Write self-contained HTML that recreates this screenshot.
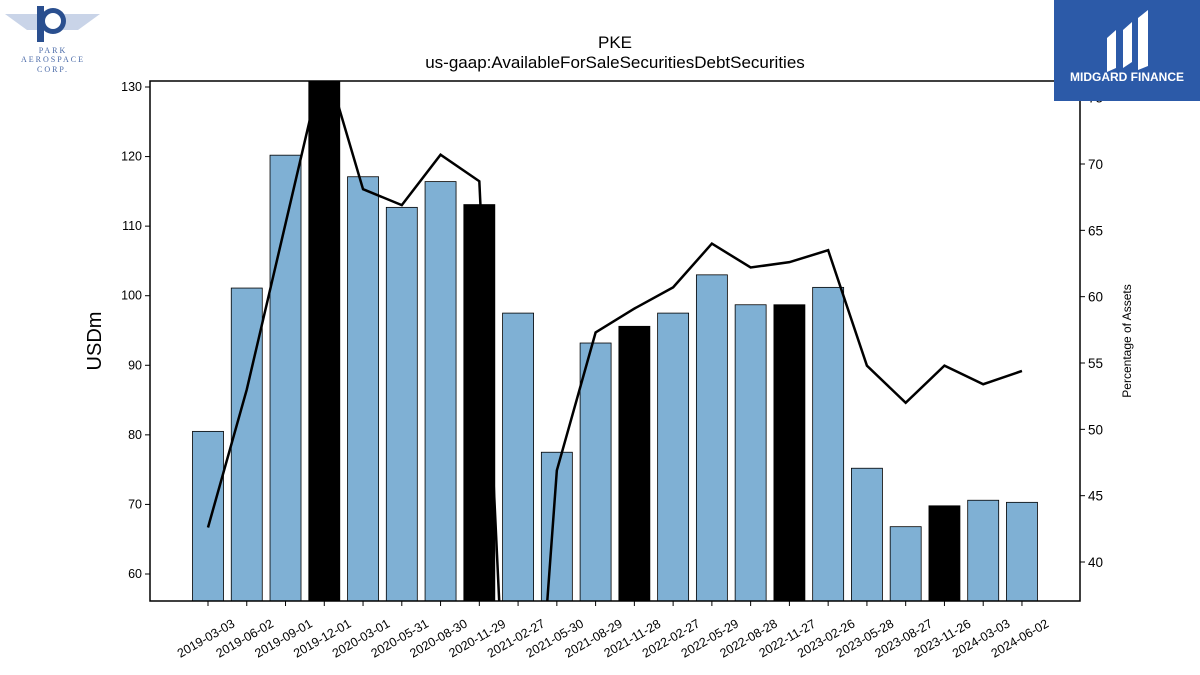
<!DOCTYPE html>
<html><head><meta charset="utf-8"><style>
html,body{margin:0;padding:0;background:#fff;}
body{width:1200px;height:675px;overflow:hidden;position:relative;font-family:"Liberation Sans",sans-serif;}
</style></head><body>
<svg id="chart" width="1200" height="675" xmlns="http://www.w3.org/2000/svg" font-family="Liberation Sans, sans-serif" style="display:block">
<defs><clipPath id="plotclip"><rect x="150" y="81" width="930" height="520"/></clipPath></defs>
<g id="logo-left">
<path d="M5 14 L100 14 L78 30 L27 30 Z" fill="#c9d4e8"/>
<rect x="37" y="6" width="7" height="36" fill="#2a4f8f"/>
<circle cx="53" cy="21" r="13" fill="#2a4f8f"/><circle cx="53" cy="21" r="8" fill="#fff"/>
<text x="53" y="53" font-size="8" fill="#4a6aa8" text-anchor="middle" font-family="Liberation Serif, serif" letter-spacing="2">PARK</text>
<text x="53" y="62" font-size="8" fill="#4a6aa8" text-anchor="middle" font-family="Liberation Serif, serif" letter-spacing="2">AEROSPACE</text>
<text x="53" y="72" font-size="8" fill="#4a6aa8" text-anchor="middle" font-family="Liberation Serif, serif" letter-spacing="2">CORP.</text>
</g>
<text x="615" y="48" font-size="17" text-anchor="middle">PKE</text>
<text x="615" y="68" font-size="17" text-anchor="middle">us-gaap:AvailableForSaleSecuritiesDebtSecurities</text>
<g id="bars" clip-path="url(#plotclip)"></g>
<g id="line" clip-path="url(#plotclip)"></g>
<g id="axes"></g>
<g id="logo-right">
<rect x="1054" y="0" width="146" height="101" fill="#2c5aa8"/>
<path d="M1107 38 L1116 30 L1116 68 L1107 72 Z M1123 30 L1132 22 L1132 62 L1123 68 Z M1138 18 L1148 10 L1148 66 L1138 70 Z" fill="#fff"/>
<text x="1127" y="81" font-size="12" font-weight="bold" fill="#fff" text-anchor="middle">MIDGARD FINANCE</text>
</g>
<text transform="translate(101,341) rotate(-90)" font-size="20" text-anchor="middle">USDm</text>
<text transform="translate(1131,341) rotate(-90)" font-size="12" text-anchor="middle">Percentage of Assets</text>
</svg>
<script>
const categories=["2019-03-03","2019-06-02","2019-09-01","2019-12-01","2020-03-01","2020-05-31","2020-08-30","2020-11-29","2021-02-27","2021-05-30","2021-08-29","2021-11-28","2022-02-27","2022-05-29","2022-08-28","2022-11-27","2023-02-26","2023-05-28","2023-08-27","2023-11-26","2024-03-03","2024-06-02"];
const usdValues=[80.5,101.1,120.2,132,117.1,112.7,116.4,113.1,97.5,77.5,93.2,95.6,97.5,103.0,98.7,98.7,101.2,75.2,66.8,69.8,70.6,70.3];
const pctValues=[42.6,53.0,65.5,78,68.1,66.9,70.7,68.7,7,46.9,57.3,59.1,60.7,64.0,62.2,62.6,63.5,54.8,52.0,54.8,53.4,54.4];
const highlighted=[false,false,false,true,false,false,false,true,false,false,false,true,false,false,false,true,false,false,false,true,false,false];
const leftTicks=[60,70,80,90,100,110,120,130];
const rightTicks=[40,45,50,55,60,65,70,75];
const NS="http://www.w3.org/2000/svg";
const X0=150,X1=1080,Y0=81,Y1=601;
const yL=v=>87+(130-v)*6.957;
const yR=v=>164+(70-v)*13.267;
const xC=i=>208+i*38.76;
function mk(tag,attrs,parent){const e=document.createElementNS(NS,tag);for(const k in attrs)e.setAttribute(k,attrs[k]);parent.appendChild(e);return e;}
const gb=document.getElementById('bars'),gl=document.getElementById('line'),ga=document.getElementById('axes');
usdValues.forEach((v,i)=>{
 const y=yL(v);
 const r=mk('rect',{x:xC(i)-15.5,y:y,width:31,height:Y1-y,fill:highlighted[i]?'#000':'#7fb0d4',stroke:'#000','stroke-width':0.8},gb);
 
 
});
const pl=mk('polyline',{points:pctValues.map((v,i)=>xC(i)+','+yR(v)).join(' '),fill:'none',stroke:'#000','stroke-width':2.5},gl);


const fr=mk('rect',{x:X0,y:Y0,width:X1-X0,height:Y1-Y0,fill:'none',stroke:'#000','stroke-width':1.5},ga);


leftTicks.forEach(t=>{const y=yL(t);
 mk('line',{x1:X0-5,x2:X0,y1:y,y2:y,stroke:'#000'},ga);
 const tx=mk('text',{x:X0-8,y:y+4,'font-size':12.5,'text-anchor':'end'},ga);tx.textContent=t;
 
 });
rightTicks.forEach(t=>{const y=yR(t);if(y<Y0||y>Y1)return;
 mk('line',{x1:X1,x2:X1+5,y1:y,y2:y,stroke:'#000'},ga);
 const tx=mk('text',{x:X1+8,y:y+5,'font-size':13.5},ga);tx.textContent=t;
 
 });
categories.forEach((c,i)=>{const x=xC(i);
 mk('line',{x1:x,x2:x,y1:Y1,y2:Y1+5,stroke:'#000'},ga);
 const tx=mk('text',{transform:`translate(${x},${Y1+41}) rotate(-30)`,'font-size':12.5,'text-anchor':'middle'},ga);tx.textContent=c;
 
 });
</script>
</body></html>
